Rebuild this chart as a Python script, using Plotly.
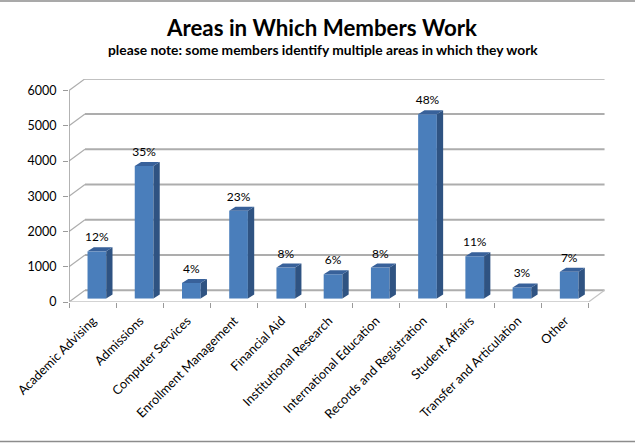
import plotly.graph_objects as go

categories = ['Academic Advising', 'Admissions', 'Computer Services', 'Enrollment Management',
              'Financial Aid', 'Institutional Research', 'International Education',
              'Records and Registration', 'Student Affairs', 'Transfer and Articulation', 'Other']
values = [1340, 3760, 445, 2490, 880, 690, 880, 5230, 1200, 315, 760]
percents = ['12%', '35%', '4%', '23%', '8%', '6%', '8%', '48%', '11%', '3%', '7%']
y_ticks = [0, 1000, 2000, 3000, 4000, 5000, 6000]

W, H = 635, 443
LEFT, RIGHT, TOP, BOTTOM = 69.3, 605.5, 79, 301.7
PX_X = 47.25          # px per category
PX_Y = 35.2 / 1000    # px per value

# the fake 3d wall / floor / bar depth, in data units
wall_dx = 16 / PX_X
wall_dy = 11.7 / PX_Y
bar_dx = 6.3 / PX_X
bar_dy = 4 / PX_Y
bar_w = 18.7 / PX_X
bar_base = 3.4 / PX_Y
bar_shift = 0.09
label_gap = 3 / PX_Y

x0 = -0.5
x1 = x0 + len(categories)
x_range = [x0, x0 + (RIGHT - LEFT) / PX_X]
y_range = [0, (BOTTOM - TOP) / PX_Y]

GRID = '#adadad'
FLOOR = '#c4c4c4'
AXIS = '#9a9a9a'

fig = go.Figure()

# front faces
fig.add_trace(go.Bar(x=[i + bar_shift for i in range(len(values))], y=values, base=bar_base, width=bar_w,
                     marker=dict(color='#4a7ebb', line=dict(width=0)), hoverinfo='skip'))

# side and top faces
side_x, side_y, top_x, top_y = [], [], [], []
for i, v in enumerate(values):
    l = i + bar_shift - bar_w / 2
    r = i + bar_shift + bar_w / 2
    t = v + bar_base
    side_x += [r, r + bar_dx, r + bar_dx, r, r, None]
    side_y += [bar_base, bar_base + bar_dy, t + bar_dy, t, bar_base, None]
    top_x += [l, l + bar_dx, r + bar_dx, r, l, None]
    top_y += [t, t + bar_dy, t + bar_dy, t, t, None]
fig.add_trace(go.Scatter(x=side_x, y=side_y, mode='lines', fill='toself', fillcolor='#2f5382',
                         line=dict(width=0), hoverinfo='skip'))
fig.add_trace(go.Scatter(x=top_x, y=top_y, mode='lines', fill='toself', fillcolor='#38619a',
                         line=dict(width=0), hoverinfo='skip'))

# percent labels
fig.add_trace(go.Scatter(x=[i + bar_shift for i in range(len(values))],
                         y=[v + bar_base + bar_dy + label_gap for v in values],
                         mode='text', text=percents, textposition='top center',
                         textfont=dict(family='Lato', size=12, color='black'),
                         cliponaxis=False, hoverinfo='skip'))

shapes = []
for t in y_ticks:
    # back wall line, then the short diagonal on the side wall
    shapes.append(dict(type='line', xref='x', yref='y', layer='below', x0=x0 + wall_dx, x1=x1 + wall_dx,
                       y0=t + wall_dy, y1=t + wall_dy, line=dict(color=GRID, width=2)))
    shapes.append(dict(type='line', xref='x', yref='y', layer='below', x0=x0, x1=x0 + wall_dx,
                       y0=t, y1=t + wall_dy, line=dict(color=GRID, width=1.2)))
# left axis, floor front and right edge
shapes.append(dict(type='line', xref='x', yref='y', layer='below', x0=x0, x1=x0, y0=0, y1=y_ticks[-1],
                   line=dict(color=AXIS, width=1.5)))
shapes.append(dict(type='line', xref='x', yref='y', layer='below', x0=x0, x1=x1, y0=0, y1=0,
                   line=dict(color=FLOOR, width=1.5)))
shapes.append(dict(type='line', xref='x', yref='y', layer='below', x0=x1, x1=x1 + wall_dx, y0=0, y1=wall_dy,
                   line=dict(color=FLOOR, width=1.2)))
# page border lines from the screenshot
for px in [1, 441]:
    yy = (BOTTOM - px) / (BOTTOM - TOP)
    shapes.append(dict(type='line', xref='paper', yref='paper', x0=-1, x1=2, y0=yy, y1=yy, layer='below',
                       line=dict(color='#8c8c8c', width=1.5)))

fig.update_layout(
    width=W, height=H, showlegend=False, barmode='overlay',
    paper_bgcolor='white', plot_bgcolor='white',
    margin=dict(l=LEFT, r=W - RIGHT, t=TOP, b=H - BOTTOM, pad=0),
    font=dict(family='Lato', color='black'),
    shapes=shapes,
    xaxis=dict(range=x_range, tickmode='array', tickvals=list(range(len(categories))), ticktext=categories,
               tickangle=-45, ticks='', showgrid=False, zeroline=False, showline=False,
               ticklabelstandoff=8,
               tickfont=dict(family='Lato', size=12.7, color='black'),
               minor=dict(tickmode='array', tickvals=[x0 + i for i in range(len(categories) + 1)],
                          ticks='outside', ticklen=5, tickcolor=AXIS, tickwidth=1, showgrid=False)),
    yaxis=dict(range=y_range, tickmode='array', tickvals=y_ticks, ticks='outside', ticklen=5, tickcolor=AXIS,
               showgrid=False, zeroline=False, showline=False, ticklabelstandoff=4,
               tickfont=dict(family='Lato', size=12.5, color='black')),
    annotations=[
        dict(text='<b>Areas in Which Members Work</b>', xref='paper', yref='paper', x=(322 - LEFT) / (RIGHT - LEFT),
             y=(BOTTOM - 28) / (BOTTOM - TOP), xanchor='center', yanchor='middle', showarrow=False,
             font=dict(family='Lato', size=22.3, color='black')),
        dict(text='<b>please note: some members identify multiple areas in which they work</b>', xref='paper',
             yref='paper', x=(323 - LEFT) / (RIGHT - LEFT), y=(BOTTOM - 50) / (BOTTOM - TOP),
             xanchor='center', yanchor='middle', showarrow=False,
             font=dict(family='Lato', size=13.8, color='black')),
    ],
)

fig.write_html("out.html", config={'displayModeBar': False}, post_script="document.body.style.margin = '0';")
